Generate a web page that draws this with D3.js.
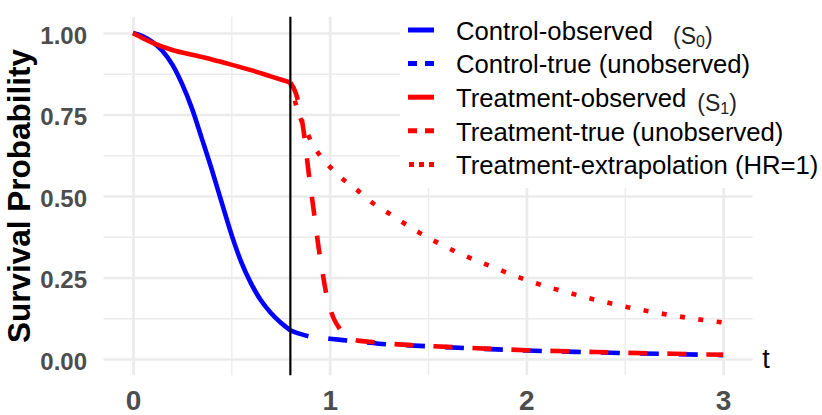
<!DOCTYPE html>
<html><head><meta charset="utf-8">
<script src="https://cdn.jsdelivr.net/npm/d3@7"></script>
<style>body{margin:0;background:#fff}svg{display:block}text{font-family:"Liberation Sans",Arial,sans-serif}</style>
</head><body><svg id="c" width="822" height="415"></svg>
<script>
// ---- data ----
const ctrlObsT = [0,0.05,0.1,0.15,0.2,0.25,0.3,0.35,0.4,0.45,0.5,0.55,0.6,0.65,0.7,0.75,0.8];
const ctrlObsS = [1.0,0.99,0.972,0.945,0.903,0.843,0.768,0.676,0.582,0.482,0.383,0.298,0.232,0.18,0.142,0.112,0.088];
const ctrlTrueT = [0.8,0.85,0.9,1.0,1.1,1.25,1.5,1.75,2.0,2.25,2.5,2.75,3.0];
const ctrlTrueS = [0.088,0.077,0.069,0.062,0.056,0.047,0.039,0.032,0.026,0.022,0.018,0.015,0.012];
const trtObsT = [0,0.05,0.1,0.2,0.3,0.4,0.5,0.6,0.7,0.8];
const trtObsS = [1.0,0.984,0.97,0.948,0.933,0.919,0.903,0.886,0.867,0.848];
const trtTrueT = [0.8,0.828,0.85,0.869,0.893,0.92,0.947,0.965,0.981,1.0,1.02,1.052,1.09,1.13,1.2,1.3,1.5,1.75,2.0,2.25,2.5,2.75,3.0];
const trtTrueS = [0.848,0.815,0.762,0.693,0.571,0.45,0.328,0.26,0.205,0.16,0.125,0.092,0.068,0.058,0.053,0.047,0.040,0.033,0.027,0.023,0.019,0.016,0.013];
const trtExtT = [0.8,0.84,0.88,0.925,0.985,1.055,1.14,1.215,1.3,1.46,1.635,1.825,2.01,2.185,2.37,2.555,2.74,2.93,3.0];
const trtExtS = [0.848,0.757,0.70,0.647,0.60,0.558,0.518,0.48,0.447,0.386,0.331,0.283,0.24,0.208,0.179,0.154,0.134,0.117,0.112];
const xMajor = [0,1,2,3], xMinor = [0.5,1.5,2.5];
const yMajor = [0,0.25,0.5,0.75,1], yMinor = [0.125,0.375,0.625,0.875];
const yTickLabels = ["0.00","0.25","0.50","0.75","1.00"];
const cutT = 0.8;
const legendLabels = ["Control-observed","Control-true (unobserved)","Treatment-observed","Treatment-true (unobserved)","Treatment-extrapolation (HR=1)"];
const legendSubs = ["0",null,"1",null,null];

// ---- layout ----
const svg = d3.select("#c");
const x = d3.scaleLinear().domain([-0.15,3.15]).range([103.5,752.6]);
const y = d3.scaleLinear().domain([-0.05,1.05]).range([375.3,16.7]);
const pTop = y.range()[1], pBot = y.range()[0], pLeft = x.range()[0], pRight = x.range()[1];
const grid = "#ebebeb";

function gridAxis(axisGen, vals, tr, w){
  const g = svg.append("g").attr("transform",tr)
    .call(axisGen.tickValues(vals).tickFormat(""));
  g.select(".domain").remove();
  g.selectAll("line").attr("stroke",grid).attr("stroke-width",w);
}
gridAxis(d3.axisBottom(x).tickSize(-(pBot-pTop)), xMinor, `translate(0,${pBot})`, 1.3);
gridAxis(d3.axisLeft(y).tickSize(-(pRight-pLeft)), yMinor, `translate(${pLeft},0)`, 1.3);
gridAxis(d3.axisBottom(x).tickSize(-(pBot-pTop)), xMajor, `translate(0,${pBot})`, 2.7);
gridAxis(d3.axisLeft(y).tickSize(-(pRight-pLeft)), yMajor, `translate(${pLeft},0)`, 2.7);

// legend background (covers grid)
svg.append("rect").attr("x",400).attr("y",pTop).attr("width",422).attr("height",188-pTop).attr("fill","#fff");

// tick labels
const ya = svg.append("g").attr("transform","translate(87,0)")
  .call(d3.axisLeft(y).tickValues(yMajor).tickSize(0).tickPadding(0).tickFormat((d,i)=>yTickLabels[i]));
ya.select(".domain").remove();
ya.selectAll("text").attr("dy",null).attr("y",10)
  .attr("font-size",24).attr("font-weight","bold").attr("fill","#4d4d4d").attr("font-family",null);
const xa = svg.append("g").attr("transform","translate(0,410)")
  .call(d3.axisBottom(x).tickValues(xMajor).tickSize(0).tickPadding(0).tickFormat(d3.format("d")));
xa.select(".domain").remove();
xa.selectAll("text").attr("dy",null).attr("y",0)
  .attr("font-size",28).attr("font-weight","bold").attr("fill","#4d4d4d").attr("font-family",null);

// axis titles
svg.append("text").attr("transform",`translate(29.5,${(pTop+pBot)/2}) rotate(-90)`)
  .attr("text-anchor","middle").attr("font-size",31.5).attr("font-weight","bold").attr("fill","#000")
  .text("Survival Probability");
svg.append("text").attr("x",766).attr("y",368).attr("text-anchor","middle")
  .attr("font-size",27).attr("fill","#000").text("t");

// curves
const line = d3.line().x(d=>x(d[0])).y(d=>y(d[1])).curve(d3.curveMonotoneX);
const zip = (a,b)=>a.map((t,i)=>[t,b[i]]);
const blue = "#0000ff", red = "#ff0000", lw = 4.6;
function curve(t,s,col,dash){
  svg.append("path").attr("d",line(zip(t,s))).attr("fill","none").attr("stroke",col)
    .attr("stroke-width",lw).attr("stroke-dasharray",dash).attr("stroke-linecap","butt");
}
curve(ctrlObsT,ctrlObsS,blue,null);
curve(ctrlTrueT,ctrlTrueS,blue,"19,20");
curve(trtObsT,trtObsS,red,null);
curve(trtTrueT,trtTrueS,red,"19,20");
curve(trtExtT,trtExtS,red,"5,13.5");

// vertical cut line
svg.append("line").attr("x1",x(cutT)).attr("x2",x(cutT)).attr("y1",pTop).attr("y2",pBot)
  .attr("stroke","#000").attr("stroke-width",2.2);

// legend
const keyCols = [blue,blue,red,red,red];
const keyDash = [null,"9,8",null,"9,8","5,5"];
const keyX0 = [408,408,408,408,409];
legendLabels.forEach((lab,i)=>{
  const cy = 30 + i*33.6;
  svg.append("line").attr("x1",keyX0[i]).attr("x2",434).attr("y1",cy).attr("y2",cy)
    .attr("stroke",keyCols[i]).attr("stroke-width",5).attr("stroke-dasharray",keyDash[i]);
  const t = svg.append("text").attr("x",456).attr("y",cy+9.8).attr("font-size",25.7).attr("fill","#000").text(lab);
  if(legendSubs[i]!==null){
    const len = t.node().getComputedTextLength();
    const gap = i===0 ? 20 : 11;
    const e = svg.append("text").attr("x",456+len+gap).attr("y",cy+13.5).attr("font-size",23).attr("fill","#222");
    e.append("tspan").text("(S");
    e.append("tspan").attr("font-size",16).attr("dy",3.5).text(legendSubs[i]);
    e.append("tspan").attr("dy",-3.5).text(")");
  }
});
</script></body></html>
